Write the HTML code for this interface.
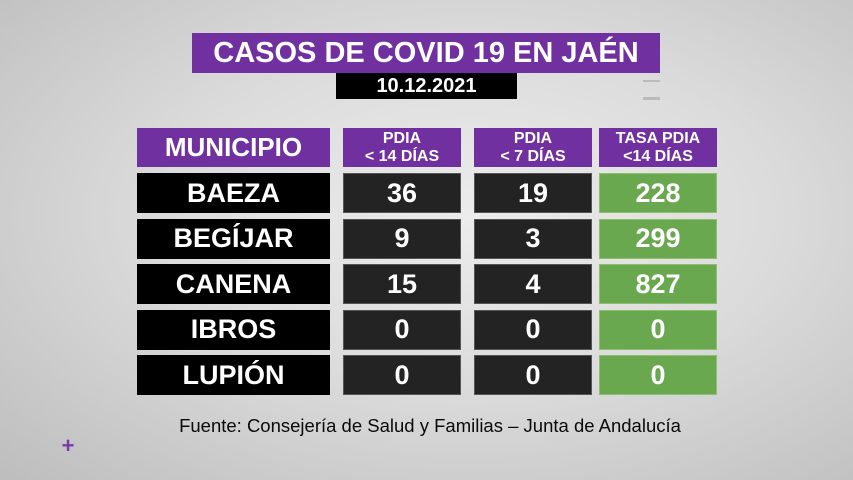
<!DOCTYPE html>
<html><head><meta charset="utf-8">
<style>
body{margin:0;width:853px;height:480px;overflow:hidden;font-family:"Liberation Sans",sans-serif;font-weight:bold;}
#bg{position:absolute;left:0;top:0;width:853px;height:480px;background:radial-gradient(ellipse at 55% 45%,#ececec 0%,#dcdcdc 45%,#bdbdbd 100%);}
.box{position:absolute;display:flex;align-items:center;justify-content:center;color:#fff;text-align:center;box-sizing:border-box;}
.p{background:#7030a0;}
.k{background:#000;}
.d{background:#232323;border:1px solid #555;}
.g{background:#6aa84f;border:1px solid #8cc070;}
</style></head><body>
<div id="bg"></div>
<div class="box p" style="left:192px;top:33px;width:468px;height:40px;font-size:29px;">CASOS DE COVID 19 EN JAÉN</div>
<div class="box k" style="left:336px;top:73px;width:181px;height:26px;font-size:20px;">10.12.2021</div>
<div style="position:absolute;left:643px;top:80px;width:17px;height:2px;background:#bbb"></div>
<div style="position:absolute;left:643px;top:97px;width:17px;height:3px;background:#bbb"></div>
<div class="box p" style="left:137px;top:128px;width:193px;height:39px;font-size:26px;">MUNICIPIO</div>
<div class="box p" style="left:343px;top:128px;width:118px;height:39px;font-size:16px;line-height:18px;">PDIA<br>&lt; 14 DÍAS</div>
<div class="box p" style="left:474px;top:128px;width:118px;height:39px;font-size:16px;line-height:18px;">PDIA<br>&lt; 7 DÍAS</div>
<div class="box p" style="left:599px;top:128px;width:118px;height:39px;font-size:16px;line-height:18px;">TASA PDIA<br>&lt;14 DÍAS</div>
<div id="rows"></div>
<div class="box" style="left:100px;top:414px;width:660px;height:24px;color:#0a0a0a;font-size:18.5px;font-weight:normal;">Fuente: Consejería de Salud y Familias – Junta de Andalucía</div>
<div class="box" style="left:58px;top:434px;width:20px;height:24px;color:#7a3aaa;font-size:22px;">+</div>
<script>
const municipios=["BAEZA","BEGÍJAR","CANENA","IBROS","LUPIÓN"];
const pdia14=[36,9,15,0,0];
const pdia7=[19,3,4,0,0];
const tasa14=[228,299,827,0,0];
const host=document.getElementById('rows');
municipios.forEach((m,i)=>{
  const top=173+i*45.5;
  const cells=[[m,'k',137,193,'municipio'],[pdia14[i],'d',343,118,'pdia14'],[pdia7[i],'d',474,118,'pdia7'],[tasa14[i],'g',599,118,'tasa']];
  cells.forEach(c=>{
    const el=document.createElement('div');
    el.className='box '+c[1];
    el.style.left=c[2]+'px';el.style.top=top+'px';el.style.width=c[3]+'px';el.style.height='40px';
    el.style.fontSize='27px';
    el.textContent=c[0];
    
    
    host.appendChild(el);
  });
});
</script>
</body></html>
